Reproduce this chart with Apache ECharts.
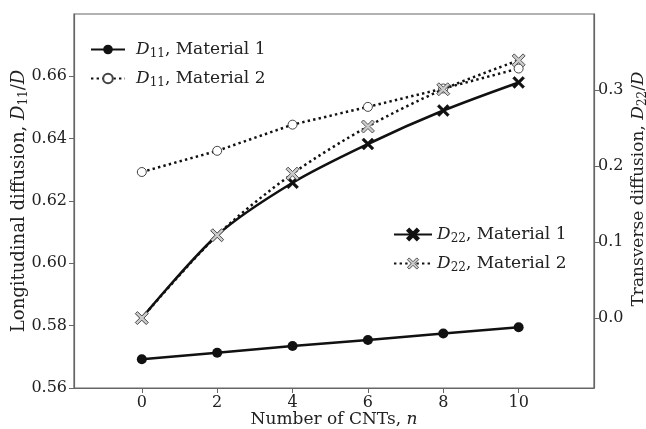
<!DOCTYPE html>
<html>
<head>
<meta charset="utf-8">
<script src="https://cdn.jsdelivr.net/npm/echarts@6/dist/echarts.min.js"></script>
<style>
html,body{margin:0;padding:0;background:#fff;}
#chart{width:646px;height:429px;}
</style>
</head>
<body>
<div id="chart"></div>
<script>
// ---- data ----
const nValues = [0, 2, 4, 6, 8, 10];
const d11Mat1 = [0.5692, 0.5713, 0.5735, 0.5754, 0.5775, 0.5795];
const d11Mat2 = [0.6293, 0.6361, 0.6445, 0.6502, 0.6561, 0.6625];
const d22Mat1 = [0.000, 0.109, 0.178, 0.229, 0.273, 0.310];
const d22Mat2 = [0.000, 0.109, 0.190, 0.252, 0.301, 0.339];
const xTicks = [0, 2, 4, 6, 8, 10];
const leftTicks = [0.56, 0.58, 0.60, 0.62, 0.64, 0.66];
const rightTicks = [0.0, 0.1, 0.2, 0.3];
const seriesNames = ['D11, Material 1', 'D11, Material 2', 'D22, Material 1', 'D22, Material 2'];

const FONT = 'DejaVu Serif';
const AX = '#666';
const pairs = arr => nValues.map((n, i) => [n, arr[i]]);
const xPath = 'path://M0,1.6L1.6,0L5,3.4L8.4,0L10,1.6L6.6,5L10,8.4L8.4,10L5,6.6L1.6,10L0,8.4L3.4,5Z';

function richSet(size, subSize) {
  return {
    t: {fontFamily: FONT, fontSize: size, color: '#222', lineHeight: size + 4},
    i: {fontFamily: FONT, fontSize: size, fontStyle: 'italic', color: '#222', lineHeight: size + 4},
    s: {fontFamily: FONT, fontSize: subSize, color: '#222', verticalAlign: 'bottom', lineHeight: subSize}
  };
}
function legendFmt(name) {
  const m = name.match(/^D(\d\d), (.*)$/);
  return '{i|D}{s|' + m[1] + '}{t|, ' + m[2] + '}';
}

const chart = echarts.init(document.getElementById('chart'), null, {renderer: 'canvas'});
const dotted = [2.4, 3.2];
const m2Style = {color: '#ccc', borderColor: '#555', borderWidth: 1};

chart.setOption({
  animation: false,
  backgroundColor: '#fff',
  grid: {left: 74, right: 52, top: 14, bottom: 41, containLabel: false, outerBoundsMode: 'none',
    show: true, borderColor: AX, borderWidth: 1.2, backgroundColor: 'transparent'},
  legend: [
    {
      data: [seriesNames[0], seriesNames[1]],
      left: 90, top: 41, padding: 0, orient: 'vertical', itemWidth: 34, itemHeight: 12, itemGap: 10,
      formatter: legendFmt,
      textStyle: {fontFamily: FONT, fontSize: 17, padding: [0, 0, 0, 6], rich: richSet(17, 12)}
    },
    {
      data: [seriesNames[2], {name: seriesNames[3], itemStyle: m2Style}],
      left: 393, top: 226, padding: 0, orient: 'vertical', itemWidth: 38, itemHeight: 14, itemGap: 10,
      formatter: legendFmt,
      textStyle: {fontFamily: FONT, fontSize: 17, padding: [0, 0, 0, 0], rich: richSet(17, 12)}
    }
  ],
  xAxis: {
    type: 'value', min: -1.8, max: 12,
    name: '{t|Number of CNTs, }{i|n}', nameLocation: 'middle', nameGap: 21, nameMoveOverlap: false,
    nameTextStyle: {rich: richSet(17, 12)},
    axisLine: {onZero: false, lineStyle: {color: AX, width: 1.2}},
    axisTick: {customValues: xTicks, length: 5, lineStyle: {color: AX}},
    axisLabel: {customValues: xTicks, fontFamily: FONT, fontSize: 16, color: '#222', margin: 7},
    splitLine: {show: false}
  },
  yAxis: [
    {
      type: 'value', min: 0.56, max: 0.68, position: 'left',
      name: '{t|Longitudinal diffusion, }{i|D}{s|11}{t|/}{i|D}', nameLocation: 'middle', nameGap: 44,
      nameMoveOverlap: false,
      nameTextStyle: {rich: richSet(18, 12)},
      axisLine: {show: true, onZero: false, lineStyle: {color: AX, width: 1.2}},
      axisTick: {customValues: leftTicks, length: 5, lineStyle: {color: AX}},
      axisLabel: {customValues: leftTicks, fontFamily: FONT, fontSize: 16, color: '#222', margin: 7,
        formatter: v => v.toFixed(2)},
      splitLine: {show: false}
    },
    {
      type: 'value', min: -0.092, max: 0.4, position: 'right',
      name: '{t|Transverse diffusion, }{i|D}{s|22}{t|/}{i|D}', nameLocation: 'middle', nameGap: 34,
      nameMoveOverlap: false,
      nameTextStyle: {rich: richSet(17, 12), padding: [0, 0, 0, 24]},
      axisLine: {show: true, onZero: false, lineStyle: {color: AX, width: 1.2}},
      axisTick: {customValues: rightTicks, length: 5, lineStyle: {color: AX}},
      axisLabel: {customValues: rightTicks, fontFamily: FONT, fontSize: 16, color: '#222', margin: 4,
        formatter: v => v.toFixed(1)},
      splitLine: {show: false}
    }
  ],
  series: [
    {
      name: seriesNames[0], type: 'line', yAxisIndex: 0, data: pairs(d11Mat1),
      symbol: 'circle', symbolSize: 10,
      lineStyle: {color: '#111', width: 2.6},
      itemStyle: {color: '#111', borderColor: '#111', borderWidth: 0}
    },
    {
      name: seriesNames[1], type: 'line', yAxisIndex: 0, data: pairs(d11Mat2),
      symbol: 'circle', symbolSize: 9,
      lineStyle: {color: '#111', width: 2.5, type: dotted},
      itemStyle: {color: '#fff', borderColor: '#444', borderWidth: 1}
    },
    {
      name: seriesNames[2], type: 'line', yAxisIndex: 1, data: pairs(d22Mat1),
      smooth: 0.3, symbol: xPath, symbolSize: 12,
      lineStyle: {color: '#111', width: 2.6},
      itemStyle: {color: '#111', borderColor: '#111', borderWidth: 0.5}
    },
    {
      name: seriesNames[3], type: 'line', yAxisIndex: 1, data: pairs(d22Mat2),
      smooth: 0.3, symbol: xPath, symbolSize: 13,
      lineStyle: {color: '#111', width: 2.5, type: dotted},
      itemStyle: m2Style
    }
  ]
});
</script>
</body>
</html>
